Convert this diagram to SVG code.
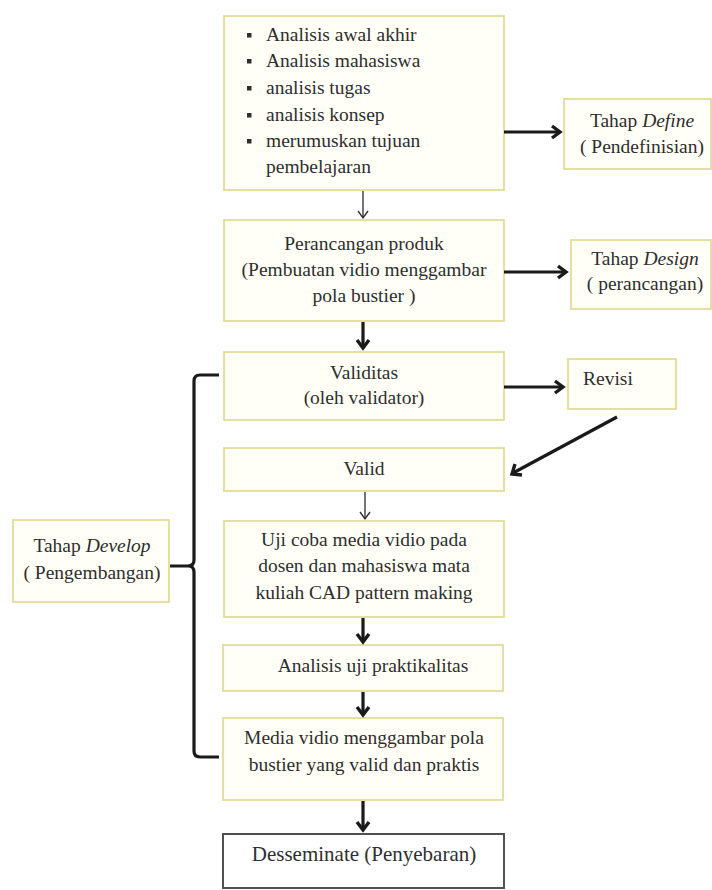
<svg xmlns="http://www.w3.org/2000/svg" width="712" height="890" viewBox="0 0 712 890">
<style>
.box{fill:#fffff7;stroke:#e2d68c;stroke-width:1.6}
.dbox{fill:#ffffff;stroke:#505050;stroke-width:2}
text{font-family:"Liberation Serif","Times New Roman",serif;font-size:19.5px;fill:#2e2e2e}
.c{text-anchor:middle}
.bul{fill:#2e2e2e}
.thick{stroke:#1a1a1a;stroke-width:3.2;fill:none}
.thin{stroke:#2a2a2a;stroke-width:1.3;fill:none}
.head{stroke:#1a1a1a;stroke-width:3.4;fill:none;stroke-linejoin:miter}
.thead{stroke:#2a2a2a;stroke-width:1.3;fill:none}
</style>
<rect width="712" height="890" fill="#ffffff"/>
<g id="n-define-list">
<rect class="box" x="224" y="16" width="280" height="174"/>
<rect class="bul" x="247" y="33" width="4.5" height="4.5"/>
<rect class="bul" x="247" y="59" width="4.5" height="4.5"/>
<rect class="bul" x="247" y="86" width="4.5" height="4.5"/>
<rect class="bul" x="247" y="113" width="4.5" height="4.5"/>
<rect class="bul" x="247" y="139" width="4.5" height="4.5"/>
<text x="266" y="41">Analisis awal akhir</text>
<text x="266" y="67">Analisis mahasiswa</text>
<text x="266" y="94">analisis tugas</text>
<text x="266" y="121">analisis konsep</text>
<text x="266" y="147">merumuskan tujuan</text>
<text x="266" y="173">pembelajaran</text>
</g>
<g id="n-define">
<rect class="box" x="564" y="99" width="147" height="70"/>
<text class="c" x="642" y="127">Tahap <tspan font-style="italic">Define</tspan></text>
<text class="c" x="642" y="153">( Pendefinisian)</text>
</g>
<g id="n-perancangan">
<rect class="box" x="224" y="220" width="280" height="101"/>
<text class="c" x="364" y="250">Perancangan  produk</text>
<text class="c" x="364" y="276">(Pembuatan vidio menggambar</text>
<text class="c" x="364" y="302">pola bustier )</text>
</g>
<g id="n-design">
<rect class="box" x="571" y="240" width="140" height="69"/>
<text class="c" x="645" y="265">Tahap <tspan font-style="italic">Design</tspan></text>
<text class="c" x="645" y="290">( perancangan)</text>
</g>
<g id="n-validitas">
<rect class="box" x="224" y="352" width="280" height="68"/>
<text class="c" x="364" y="379">Validitas</text>
<text class="c" x="364" y="404">(oleh validator)</text>
</g>
<g id="n-revisi">
<rect class="box" x="568" y="359" width="108" height="50"/>
<text x="583" y="385">Revisi</text>
</g>
<g id="n-valid">
<rect class="box" x="224" y="448" width="280" height="43"/>
<text class="c" x="364" y="475">Valid</text>
</g>
<g id="n-ujicoba">
<rect class="box" x="224" y="521" width="280" height="96"/>
<text class="c" x="364" y="546">Uji coba media vidio pada</text>
<text class="c" x="364" y="572">dosen dan mahasiswa mata</text>
<text class="c" x="364" y="599">kuliah CAD pattern making</text>
</g>
<g id="n-analisis">
<rect class="box" x="223" y="645" width="280" height="46"/>
<text class="c" x="373" y="672">Analisis uji praktikalitas</text>
</g>
<g id="n-media">
<rect class="box" x="223" y="718" width="280" height="82"/>
<text class="c" x="364" y="744">Media vidio menggambar pola</text>
<text class="c" x="364" y="771">bustier yang valid dan praktis</text>
</g>
<g id="n-disseminate">
<rect class="dbox" x="223" y="834" width="281" height="54"/>
<text class="c" x="364" y="861" style="font-size:21px">Desseminate (Penyebaran)</text>
</g>
<g id="n-develop">
<rect class="box" x="13" y="520" width="156" height="82"/>
<text class="c" x="92" y="552">Tahap <tspan font-style="italic">Develop</tspan></text>
<text class="c" x="92" y="579">( Pengembangan)</text>
</g>
<g id="connectors">
<path class="thin" d="M363,191 V218"/>
<path class="thead" d="M358,211 L363,218 L368,211"/>
<path class="thin" d="M365,492 V519"/>
<path class="thead" d="M360,512 L365,519 L370,512"/>
<path class="thick" d="M363,322 V348"/>
<path class="head" d="M357,340 L363,348 L369,340"/>
<path class="thick" d="M363,618 V641"/>
<path class="head" d="M357,634 L363,642 L369,634"/>
<path class="thick" d="M363,692 V714"/>
<path class="head" d="M357,707 L363,715 L369,707"/>
<path class="thick" d="M363,801 V829"/>
<path class="head" d="M357,822 L363,830 L369,822"/>
<path class="thick" d="M504,132 H559"/>
<path class="head" d="M552,126 L560,132 L552,138"/>
<path class="thick" d="M504,272 H565"/>
<path class="head" d="M558,266 L566,272 L558,278"/>
<path class="thick" d="M504,387 H562"/>
<path class="head" d="M555,381 L563,387 L555,393"/>
<path class="thick" d="M617,417 L513,473"/>
<path class="head" d="M515,464 L512,474 L522,475"/>
<path class="thick" d="M219,375 H200 Q194,375 194,381 V560 Q194,566 188,566 H170 M188,566 Q194,566 194,572 V751 Q194,757 200,757 H219"/>
</g>
</svg>
